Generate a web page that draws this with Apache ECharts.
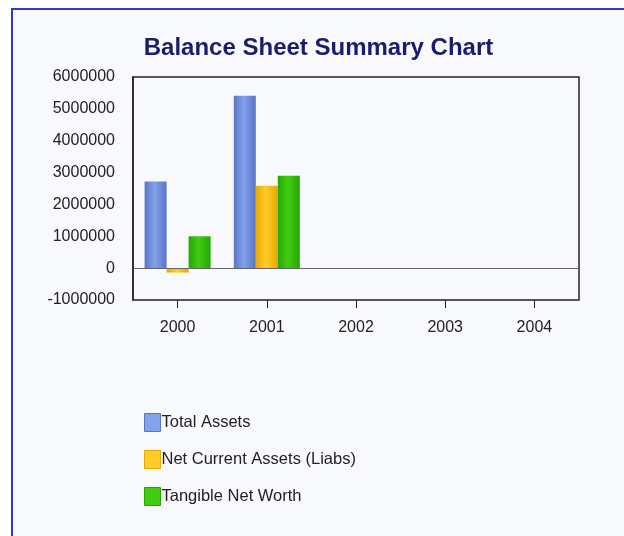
<!DOCTYPE html>
<html>
<head>
<meta charset="utf-8">
<script src="https://cdn.jsdelivr.net/npm/echarts@6/dist/echarts.min.js"></script>
<style>
  html, body { margin: 0; padding: 0; background: #fff; }
  #frame {
    position: absolute; left: 11px; top: 8px; width: 613px; height: 528px;
    border-left: 2px solid #3535d8; border-top: 2px solid #3535d8;
    background: #f8f9fd;
  }
  #chart { width: 611px; height: 526px; }
</style>
</head>
<body>
<div id="frame"><div id="chart"></div></div>
<script>
// data
var years = ['2000', '2001', '2002', '2003', '2004']
var totalAssets = [2720000, 5410000, 0, 0, 0]
var netCurrentAssets = [-140000, 2590000, 0, 0, 0]
var tangibleNetWorth = [1000000, 2900000, 0, 0, 0]
var seriesNames = ['Total Assets', 'Net Current Assets (Liabs)', 'Tangible Net Worth']

// edge / middle colours for the shaded bars
var palette = [
  ['#5874c6', '#84a2ea'],
  ['#e8a800', '#ffcc2a'],
  ['#22a800', '#42cc12']
]

function shade(c) {
  return {
    type: 'linear', x: 0, y: 0, x2: 1, y2: 0,
    colorStops: [
      { offset: 0, color: c[0] },
      { offset: 0.45, color: c[1] },
      { offset: 1, color: c[0] }
    ]
  }
}

var chart = echarts.init(document.getElementById('chart'))
var font = 'Liberation Sans, Arial, sans-serif'

var data = [totalAssets, netCurrentAssets, tangibleNetWorth]
var series = data.map(function (d, i) {
  return {
    name: seriesNames[i],
    type: 'bar',
    data: d,
    barGap: '0%',
    barCategoryGap: '26%',
    itemStyle: { color: shade(palette[i]) }
  }
})

chart.setOption({
  animation: false,
  backgroundColor: '#f8f9fd',
  title: {
    text: 'Balance Sheet Summary Chart',
    left: 'center',
    top: 21,
    textStyle: { color: '#1c1c6c', fontSize: 24, fontWeight: 'bold', fontFamily: font }
  },
  grid: { left: 120, top: 67, width: 446, height: 223, containLabel: false },
  legend: {
    orient: 'vertical',
    left: 126,
    top: 398,
    itemWidth: 16,
    itemHeight: 18,
    itemGap: 18,
    icon: 'rect',
    textStyle: { color: '#222', fontSize: 16.5, fontFamily: font, padding: [0, 0, 0, -4] },
    data: seriesNames.map(function (n, i) {
      return { name: n, itemStyle: { color: palette[i][1], borderColor: palette[i][0], borderWidth: 1 } }
    })
  },
  xAxis: {
    type: 'category',
    data: years,
    axisLine: { show: false, onZero: false },
    axisTick: { show: true, alignWithLabel: true, length: 8, lineStyle: { color: '#222' } },
    axisLabel: { color: '#222', fontSize: 16, fontFamily: font, margin: 20 }
  },
  yAxis: {
    type: 'value',
    min: -1000000,
    max: 6000000,
    interval: 1000000,
    axisLine: { show: true, lineStyle: { color: '#222', width: 1.5 } },
    axisTick: { show: false },
    axisLabel: {
      color: '#222', fontSize: 16, fontFamily: font, margin: 18,
      formatter: function (v) { return String(v) }
    },
    splitLine: { show: false }
  },
  series: series.concat([{
    type: 'line',
    data: [],
    markLine: {
      silent: true,
      symbol: 'none',
      label: { show: false },
      lineStyle: { color: '#666', width: 1, type: 'solid' },
      data: [{ yAxis: 0 }]
    }
  }]),
  graphic: [{
    type: 'rect',
    shape: { x: 120, y: 67, width: 446, height: 223 },
    style: { fill: null, stroke: '#222', lineWidth: 1.5 },
    silent: true
  }]
})
</script>
</body>
</html>
